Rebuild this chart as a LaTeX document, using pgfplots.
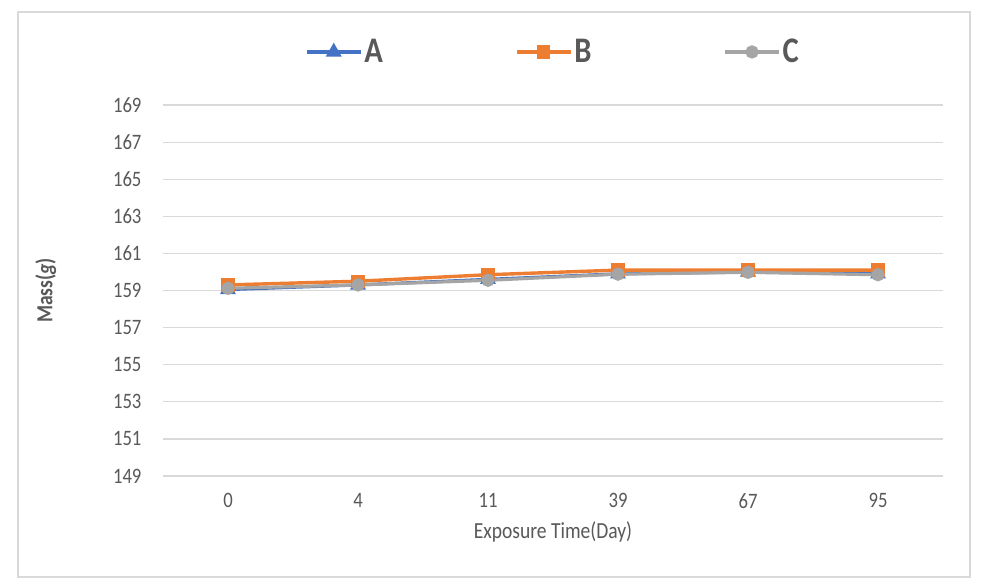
\documentclass[border=0pt]{standalone}
\usepackage{pgfplots}
\pgfplotsset{compat=1.18}
\usepackage{fontspec}
\setmainfont{Carlito}[FakeStretch=0.85]
\definecolor{serA}{HTML}{4472C4}
\definecolor{serB}{HTML}{ED7D31}
\definecolor{serC}{HTML}{A5A5A5}
\definecolor{txt}{HTML}{595959}
\definecolor{grd}{HTML}{D9D9D9}
\begin{document}
\begin{tikzpicture}
\path[use as bounding box, fill=white] (-163pt,-111pt) rectangle (825pt,476pt);
\draw[grd, line width=1.2pt] (-145pt,-101pt) rectangle (807pt,464pt);
\begin{axis}[
  scale only axis,
  width=780pt, height=371pt,
  xmin=-0.5, xmax=5.5,
  ymin=149, ymax=169,
  xtick={0,1,2,3,4,5},
  xticklabels={0,4,11,39,67,95},
  ytick={149,151,...,169},
  ymajorgrids,
  grid style={grd, line width=1.2pt},
  axis line style={draw=none},
  axis x line*=bottom,
  x axis line style={grd, line width=1.2pt},
  major tick length=0pt,
  tick label style={font=\fontsize{22}{25}\selectfont, text=txt},
  /pgf/number format/assume math mode=true,
  yticklabel style={xshift=-18pt},
  xticklabel style={yshift=-14pt},
  xlabel={Exposure Time(Day)},
  xlabel style={font=\fontsize{23}{27}\selectfont, text=txt, yshift=-6pt},
  ylabel={\bfseries Mass(\textit{g})},
  ylabel style={font=\fontsize{23}{26}\selectfont, text=txt, yshift=50pt},
  legend columns=3,
  legend style={draw=none, fill=none, at={(axis description cs:0.5,1.143)}, anchor=center,
    font=\fontsize{36}{40}\selectfont\bfseries, text=txt,
    /tikz/every even column/.append style={column sep=130pt}},
  legend image code/.code={\draw[mark repeat=2, mark phase=2] plot coordinates {(0pt,0pt) (27pt,0pt) (54pt,0pt)};},
]
\addplot[serA, line width=3.2pt, mark=triangle*, mark size=6pt, mark options={solid}] coordinates {
  (0,159.05) (1,159.3) (2,159.6) (3,159.9) (4,160.0) (5,159.9)
};
\addlegendentry{A}
\addplot[serB, line width=3.4pt, mark=square*, mark size=5pt, mark options={solid}] coordinates {
  (0,159.3) (1,159.5) (2,159.85) (3,160.1) (4,160.1) (5,160.1)
};
\addlegendentry{B}
\addplot[serC, line width=3.2pt, mark=*, mark size=5pt, mark options={solid}] coordinates {
  (0,159.12) (1,159.3) (2,159.55) (3,159.88) (4,159.98) (5,159.85)
};
\addlegendentry{C}
\end{axis}
\end{tikzpicture}
\end{document}
